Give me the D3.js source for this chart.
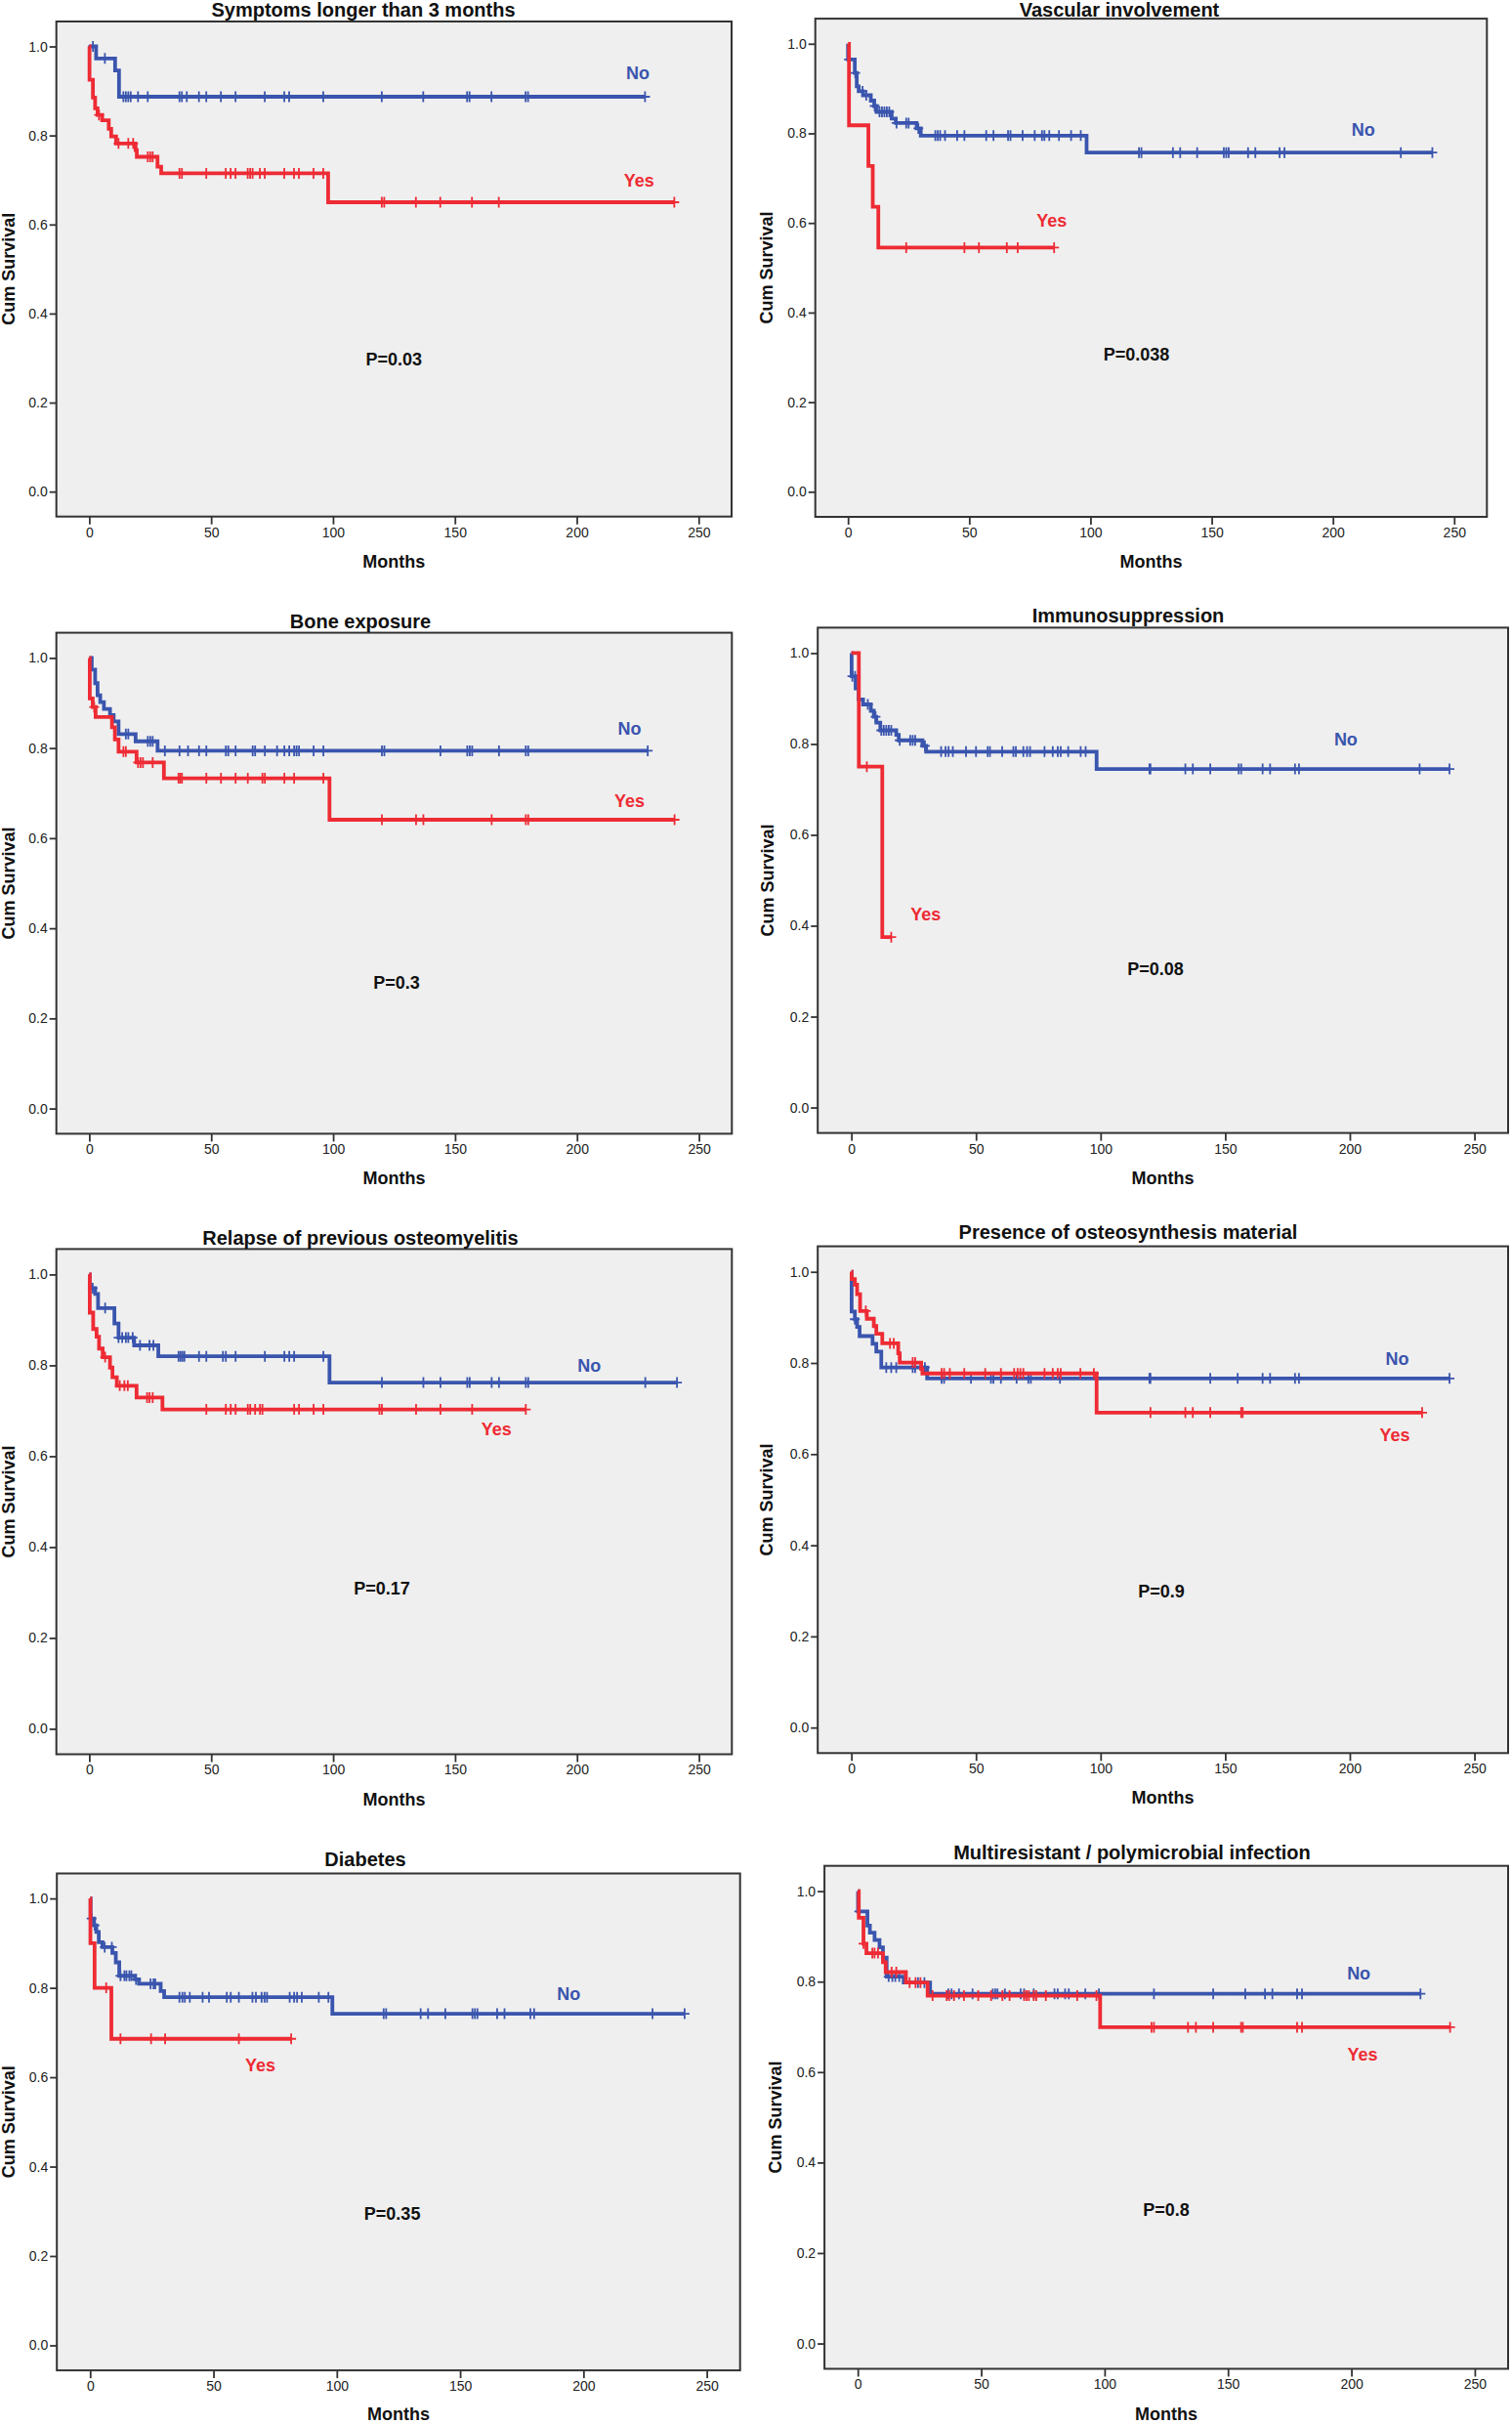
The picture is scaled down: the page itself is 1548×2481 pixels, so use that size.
<!DOCTYPE html>
<html><head><meta charset="utf-8">
<script src="https://cdn.jsdelivr.net/npm/d3@7"></script>
<style>html,body{margin:0;padding:0;background:#fff;}svg{display:block;}</style>
</head><body>
<svg id="chart" width="1548" height="2481"></svg>
<script>
// ---------------- DATA ----------------
const titles = ["Symptoms longer than 3 months","Vascular involvement","Bone exposure","Immunosuppression",
  "Relapse of previous osteomyelitis","Presence of osteosynthesis material","Diabetes","Multiresistant / polymicrobial infection"];
const pValues = ["P=0.03","P=0.038","P=0.3","P=0.08","P=0.17","P=0.9","P=0.35","P=0.8"];
const groupNames = ["No","Yes"];
const xTicks = [0,50,100,150,200,250];
const yTicks = [0.0,0.2,0.4,0.6,0.8,1.0];
const xAxisTitle = "Months";
const yAxisTitle = "Cum Survival";

// steps: [time (months), cumulative survival after the event]; censored: times of censored cases (last = end of follow-up)
const symptomsNoSteps = [[2.8,0.973],[10.6,0.946],[12.2,0.887]];
const symptomsNoCensored = [1.5,6.4,14,15,16,17,20,24,37,38,40,45,48,54,60,72,80,82,96,120,137,155,156,165,179,180,228];
const symptomsYesSteps = [[0.1,0.925],[1.5,0.885],[2.4,0.861],[3.4,0.846],[5.3,0.834],[8,0.815],[9,0.798],[11,0.782],[19,0.767],[19.5,0.752],[28,0.730],[29.5,0.715],[98,0.650]];
const symptomsYesCensored = [4,12,16,18,24,25,26,37,38,48,56,58,60,65,66,67,70,72,80,84,86,92,96,120,121,134,144,157,168,240];

const vascularNoSteps = [[0,0.965],[2.8,0.935],[3.6,0.905],[4.4,0.894],[6.2,0.885],[9.4,0.873],[10.8,0.861],[11.8,0.848],[18,0.833],[19.7,0.823],[28.3,0.811],[30,0.795],[98.4,0.757]];
const vascularNoCensored = [0.4,3,6,7.5,11,13,14,15,16,17,20,24,25,29,36,37,38,40,45,48,57,60,66,67,72,77,80,81,83,87,92,96,120,121,134,137,144,155,156,157,165,168,178,180,228,241];
const vascularYesSteps = [[0.4,0.818],[8.4,0.727],[10.2,0.636],[12.5,0.545]];
const vascularYesCensored = [24,48,54,65.5,70,85];

const boneNoSteps = [[1,0.974],[2.4,0.944],[3.4,0.917],[4.5,0.902],[6,0.887],[8.5,0.873],[10,0.859],[12,0.831],[19,0.815],[28,0.794]];
const boneNoCensored = [15,16,24,25,26,31,37,40.5,45,48,56,57,60,67,68,72,77,80,82,84,85,86,92,96,120,121,144,155,156,157,168,179,180,229];
const boneYesSteps = [[0.2,0.910],[1.4,0.891],[2.6,0.869],[9.3,0.846],[10.5,0.819],[12,0.792],[19.4,0.768],[30.6,0.733],[98.5,0.641]];
const boneYesCensored = [2,14,15,20,21,22,26,36.6,37.3,38,48,54,60,65,71,72,80,84,96,120,134,137,165,179,180,240];

const immunoNoSteps = [[0.1,0.949],[1.7,0.922],[2.9,0.898],[4.7,0.887],[7.8,0.873],[9,0.860],[10,0.847],[11.6,0.830],[18,0.820],[19,0.808],[28.5,0.796],[30,0.783],[98.4,0.745]];
const immunoNoCensored = [0.4,1.5,6.6,9.7,12,13,14,15,16,19.4,23.6,24.6,25.6,29.5,36,37.8,39,40.7,46,50,54.7,55.6,60.5,65,66,69,70.5,71.7,77.5,80.8,82.8,84,87,92,94,119.6,120,134,137,144,155.4,156.4,165,168,178,179.6,228,240];
const immunoYesSteps = [[3,0.75],[12.4,0.375]];
const immunoYesCensored = [6.2,16];

const relapseNoSteps = [[0.2,0.970],[2.4,0.957],[3.6,0.926],[10.3,0.892],[12,0.861],[18.4,0.844],[28.3,0.820],[98.5,0.762]];
const relapseNoCensored = [1.4,6.5,12,13.5,15,16,17.8,20.8,24.7,26.3,36.6,37.4,38.2,39,45,48,54.8,56,60,72,80,82,84,96,120,137,144,155,156,165,168,179,180,228,241];
const relapseYesSteps = [[0.2,0.916],[1.6,0.880],[3,0.863],[4,0.837],[5.5,0.818],[8.5,0.795],[9.5,0.774],[11.3,0.755],[19.4,0.729],[30,0.703]];
const relapseYesCensored = [6.5,12.5,14.4,15.8,23.7,24.7,26,48,56,58,60,65,66,68,70,71,84,86,92,96,119,120,134,144,157,179];

const osteoNoSteps = [[0.1,0.913],[1.4,0.896],[2.3,0.879],[3.3,0.859],[8.5,0.842],[10,0.825],[12,0.790],[30.4,0.766]];
const osteoNoCensored = [1.4,14,16,18,24.6,25.6,29.5,36.2,37.2,48,56,57,60,66.3,71,72,83.7,119.6,120,144,155,165,168,178,179.6,240];
const osteoYesSteps = [[0.1,0.984],[1.4,0.972],[2.3,0.951],[3.5,0.914],[6.2,0.897],[9,0.881],[10,0.864],[12.4,0.843],[18.8,0.821],[19.4,0.801],[28,0.787],[28.5,0.777],[98.4,0.691]];
const osteoYesCensored = [5.8,15.5,17,24.6,25.6,36.2,37.2,39.5,45.3,53.7,60,65.3,66.7,67.8,69,77.5,80.8,82.8,84,91.9,97.3,120,134,137,144,156.4,157,229];

const diabetesNoSteps = [[0.2,0.955],[1.6,0.940],[2.5,0.925],[3.5,0.902],[5,0.891],[9,0.878],[10.4,0.857],[11.8,0.827],[18.2,0.819],[19.8,0.809],[28.6,0.793],[30,0.779],[98.2,0.742]];
const diabetesNoCensored = [0.6,1.8,5.9,8.8,12.3,13.9,14.7,15.9,16.7,18.6,24.5,25.7,26.4,36.2,37.4,38.4,40.4,45.6,48.2,55.4,57,60.3,65.8,67.2,69.5,70.7,71.7,80.9,82.7,83.9,85.8,92.7,96.6,119,120,134,137,144,155,156,157,165,168,178.5,180,228,241];
const diabetesYesSteps = [[0.1,0.9],[1.8,0.8],[8.6,0.686]];
const diabetesYesCensored = [6.5,12.3,24.7,30.4,60.3,81.5];

const multiNoSteps = [[0.1,0.955],[3.9,0.924],[4.9,0.908],[6.8,0.892],[8.8,0.876],[10.2,0.853],[11.7,0.811],[18.6,0.798],[29.3,0.773]];
const multiNoCensored = [0.6,12.5,14,15.2,16.8,24.4,27,36.7,38,41,46.5,54.7,55.7,56.6,59.6,66,67.4,71.3,79.7,81,84,85.5,92.2,97.7,120,144,157,165,168,178,180,228];
const multiYesSteps = [[0.4,0.941],[2.3,0.884],[3.5,0.863],[10.2,0.843],[11.3,0.821],[19.5,0.798],[28.3,0.769],[98.2,0.699]];
const multiYesCensored = [2.3,5.9,6.8,8.2,13.7,15.6,21,23.4,25.4,30.3,36,37,39,43,48.8,54,58.6,61.5,67.4,68.4,69.3,71.3,72.3,76.2,88.9,96.7,119,120,133.8,137,144,155.3,156,178,180,240];

const series = [
  [[symptomsNoSteps,symptomsNoCensored],[symptomsYesSteps,symptomsYesCensored]],
  [[vascularNoSteps,vascularNoCensored],[vascularYesSteps,vascularYesCensored]],
  [[boneNoSteps,boneNoCensored],[boneYesSteps,boneYesCensored]],
  [[immunoNoSteps,immunoNoCensored],[immunoYesSteps,immunoYesCensored]],
  [[relapseNoSteps,relapseNoCensored],[relapseYesSteps,relapseYesCensored]],
  [[osteoNoSteps,osteoNoCensored],[osteoYesSteps,osteoYesCensored]],
  [[diabetesNoSteps,diabetesNoCensored],[diabetesYesSteps,diabetesYesCensored]],
  [[multiNoSteps,multiNoCensored],[multiYesSteps,multiYesCensored]]
];

// ---------------- LAYOUT (pixels) ----------------
const frames = [
  {l:57.7, t:22,    r:749,   b:528.7,  titleX:372,  titleY:17,   ylabX:9,   xlabDy:52},
  {l:834.7,t:19.1,  r:1522.3,b:529,    titleX:1146, titleY:16.5, ylabX:785, xlabDy:52},
  {l:57.7, t:647.6, r:749.3, b:1160.4, titleX:369,  titleY:643,  ylabX:9,   xlabDy:52},
  {l:837.2,t:642.4, r:1544,  b:1159.6, titleX:1155, titleY:637,  ylabX:786, xlabDy:52},
  {l:57.7, t:1278.4,r:749.3, b:1795.5, titleX:369,  titleY:1274, ylabX:9,   xlabDy:52},
  {l:837.2,t:1275.6,r:1544,  b:1794.3, titleX:1155, titleY:1268, ylabX:785, xlabDy:52},
  {l:58.2, t:1917.5,r:757.7, b:2426.1, titleX:374,  titleY:1910, ylabX:9,   xlabDy:50.5},
  {l:844.1,t:1909.7,r:1544,  b:2424.5, titleX:1159, titleY:1903, ylabX:794, xlabDy:52}
];
// annotation anchors in data units [months, survival]
const annot = [
  {no:[225,0.94], yes:[225.5,0.70], p:[125,0.297]},
  {no:[212.5,0.808], yes:[84,0.605], p:[119,0.308]},
  {no:[221.5,0.844], yes:[221.5,0.684], p:[126,0.28]},
  {no:[198.4,0.81], yes:[29.8,0.426], p:[122,0.306]},
  {no:[205,0.80], yes:[167,0.66], p:[120,0.309]},
  {no:[219,0.809], yes:[218,0.642], p:[124.4,0.299]},
  {no:[194,0.787], yes:[69,0.627], p:[122.5,0.295]},
  {no:[203,0.818], yes:[204.5,0.639], p:[125,0.297]}
];
const colors = ["#3a55ae","#ee2b34"];
const FONT = "'Liberation Sans', Arial, Helvetica, sans-serif";

const svg = d3.select("#chart");

function survivalAt(steps, t){
  let s = 1;
  for (const [st, sv] of steps){ if (st <= t) s = sv; }
  return s;
}

series.forEach((grp, i) => {
  const f = frames[i];
  const x = d3.scaleLinear().domain([-13.5, 263.5]).range([f.l, f.r]);
  const y = d3.scaleLinear().domain([-0.056, 1.056]).range([f.b, f.t]);
  const g = svg.append("g");

  g.append("rect").attr("x", f.l).attr("y", f.t).attr("width", f.r - f.l).attr("height", f.b - f.t)
    .attr("fill", "#efefef");

  // axes
  const yAxis = d3.axisLeft(y).tickValues(yTicks).tickFormat(d3.format(".1f")).tickSize(7).tickPadding(2);
  const xAxis = d3.axisBottom(x).tickValues(xTicks).tickFormat(d3.format("d")).tickSize(8).tickPadding(3);
  const ya = g.append("g").attr("transform", `translate(${f.l},0)`).call(yAxis);
  const xa = g.append("g").attr("transform", `translate(0,${f.b})`).call(xAxis);
  [ya, xa].forEach(a => {
    a.select(".domain").remove();
    a.selectAll(".tick line").attr("stroke", "#333").attr("stroke-width", 1.8);
    a.selectAll(".tick text").attr("fill", "#222").attr("font-family", FONT).attr("font-size", 14);
  });

  // curves (No first, Yes on top)
  const line = d3.line().x(d => x(d[0])).y(d => y(d[1])).curve(d3.curveStepAfter);
  grp.forEach(([steps, cens], k) => {
    const end = d3.max(cens.concat(steps.map(s => s[0])));
    const pts = [[0, 1]].concat(steps, [[end, steps[steps.length - 1][1]]]);
    g.append("path").attr("d", line(pts)).attr("fill", "none")
      .attr("stroke", colors[k]).attr("stroke-width", 3.8).attr("stroke-linejoin", "miter");
    g.selectAll(null).data(cens).enter().append("path")
      .attr("transform", t => `translate(${x(t)},${y(survivalAt(steps, t))})`)
      .attr("d", "M-5,0H5M0,-5.5V5.5").attr("stroke", colors[k]).attr("stroke-width", 1.8).attr("fill", "none");
  });

  // frame
  g.append("rect").attr("x", f.l).attr("y", f.t).attr("width", f.r - f.l).attr("height", f.b - f.t)
    .attr("fill", "none").attr("stroke", "#333").attr("stroke-width", 2);

  // titles
  g.append("text").attr("x", f.titleX).attr("y", f.titleY).attr("text-anchor", "middle")
    .attr("font-family", FONT).attr("font-size", 20).attr("font-weight", "bold").attr("fill", "#111")
    .text(titles[i]);
  g.append("text").attr("x", (f.l + f.r) / 2).attr("y", f.b + f.xlabDy).attr("text-anchor", "middle")
    .attr("font-family", FONT).attr("font-size", 18).attr("font-weight", "bold").attr("fill", "#111")
    .text(xAxisTitle);
  g.append("text").attr("transform", `translate(${f.ylabX},${(f.t + f.b) / 2}) rotate(-90)`)
    .attr("text-anchor", "middle").attr("dy", "0.36em")
    .attr("font-family", FONT).attr("font-size", 18).attr("font-weight", "bold").attr("fill", "#111")
    .text(yAxisTitle);

  // annotations
  const a = annot[i];
  [["no", 0], ["yes", 1]].forEach(([key, k]) => {
    g.append("text").attr("x", x(a[key][0])).attr("y", y(a[key][1])).attr("dy", "0.36em")
      .attr("text-anchor", "middle").attr("font-family", FONT).attr("font-size", 18)
      .attr("font-weight", "bold").attr("fill", colors[k]).text(groupNames[k]);
  });
  g.append("text").attr("x", x(a.p[0])).attr("y", y(a.p[1])).attr("dy", "0.36em")
    .attr("text-anchor", "middle").attr("font-family", FONT).attr("font-size", 18)
    .attr("font-weight", "bold").attr("fill", "#111").text(pValues[i]);
});
</script>
</body></html>
